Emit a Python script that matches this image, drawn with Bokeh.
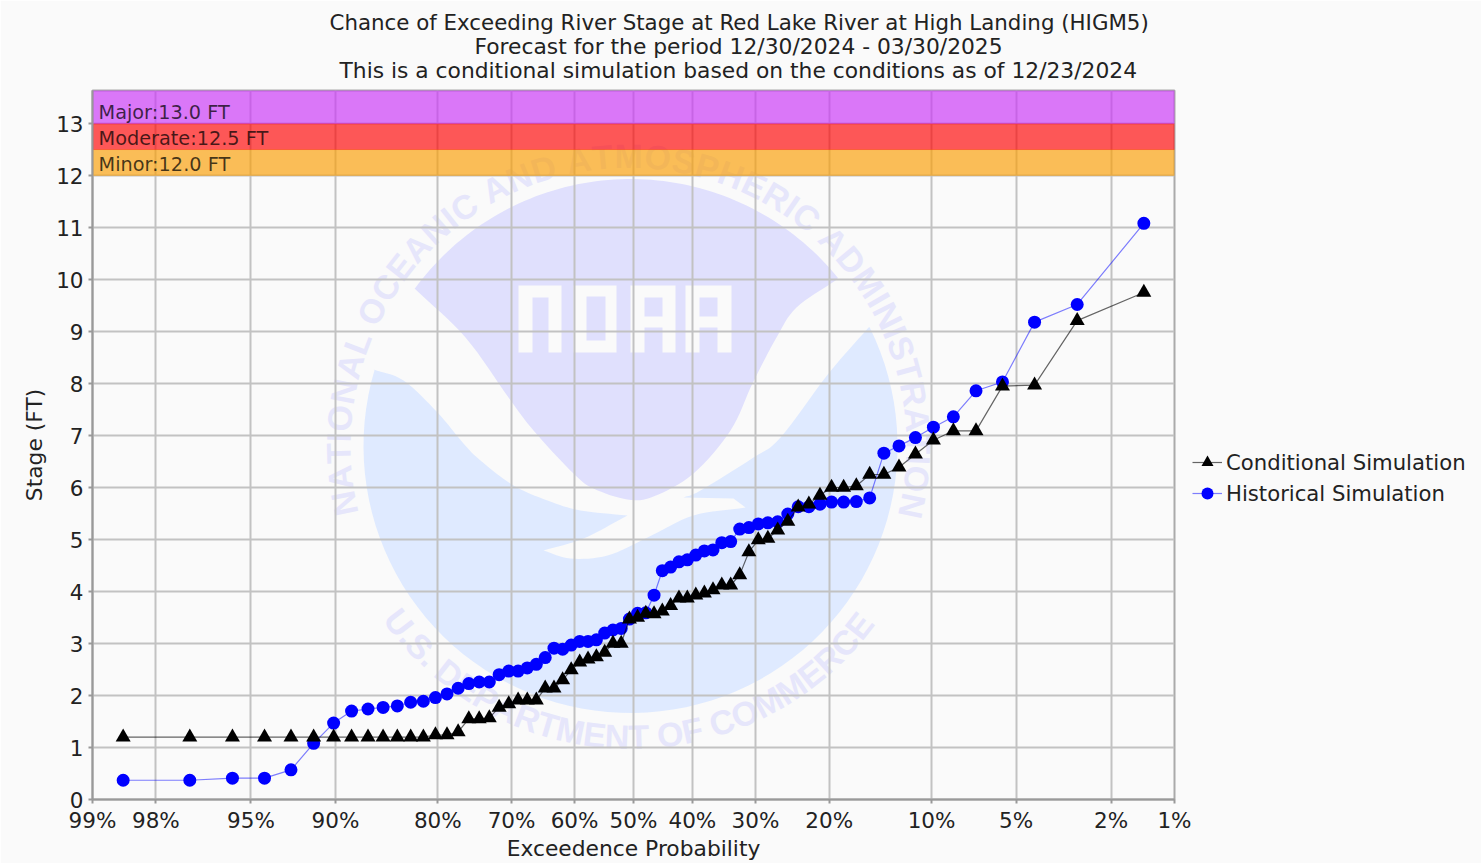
from statistics import NormalDist
import numpy as np
from bokeh.embed import file_html
from bokeh.resources import INLINE
from bokeh.plotting import figure
from bokeh.models import FixedTicker, Legend, LegendItem, Title
from bokeh.core.properties import value

title_lines = [
    "Chance of Exceeding River Stage at Red Lake River at High Landing (HIGM5)",
    "Forecast for the period 12/30/2024 - 03/30/2025",
    "This is a conditional simulation based on the conditions as of 12/23/2024",
]
exceedance_pct = [
    98.59, 97.18, 95.77, 94.37, 92.96, 91.55, 90.14, 88.73, 87.32, 85.92,
    84.51, 83.10, 81.69, 80.28, 78.87, 77.46, 76.06, 74.65, 73.24, 71.83,
    70.42, 69.01, 67.61, 66.20, 64.79, 63.38, 61.97, 60.56, 59.15, 57.75,
    56.34, 54.93, 53.52, 52.11, 50.70, 49.30, 47.89, 46.48, 45.07, 43.66,
    42.25, 40.85, 39.44, 38.03, 36.62, 35.21, 33.80, 32.39, 30.99, 29.58,
    28.17, 26.76, 25.35, 23.94, 22.54, 21.13, 19.72, 18.31, 16.90, 15.49,
    14.08, 12.68, 11.27, 9.86, 8.45, 7.04, 5.63, 4.23, 2.82, 1.41,
]
conditional = [
    1.20, 1.20, 1.20, 1.20, 1.20, 1.20, 1.20, 1.20, 1.20, 1.20,
    1.20, 1.20, 1.20, 1.24, 1.24, 1.30, 1.55, 1.55, 1.57, 1.77,
    1.84, 1.91, 1.91, 1.91, 2.14, 2.14, 2.30, 2.49, 2.64, 2.70,
    2.74, 2.83, 3.00, 3.00, 3.47, 3.50, 3.58, 3.57, 3.62, 3.73,
    3.87, 3.87, 3.93, 3.97, 4.03, 4.12, 4.12, 4.32, 4.76, 4.99,
    5.02, 5.18, 5.35, 5.62, 5.68, 5.85, 6.00, 6.00, 6.03, 6.25,
    6.25, 6.39, 6.64, 6.91, 7.09, 7.09, 7.95, 7.97, 9.21, 9.75,
]
historical = [
    0.37, 0.37, 0.41, 0.41, 0.57, 1.08, 1.47, 1.70, 1.74, 1.77,
    1.80, 1.87, 1.89, 1.96, 2.03, 2.14, 2.23, 2.26, 2.26, 2.40,
    2.47, 2.47, 2.53, 2.60, 2.73, 2.91, 2.89, 2.97, 3.04, 3.04,
    3.07, 3.20, 3.26, 3.29, 3.47, 3.58, 3.59, 3.93, 4.40, 4.47,
    4.57, 4.61, 4.70, 4.78, 4.80, 4.94, 4.96, 5.20, 5.23, 5.30,
    5.32, 5.34, 5.49, 5.63, 5.63, 5.68, 5.72, 5.72, 5.73, 5.80,
    6.66, 6.80, 6.96, 7.16, 7.36, 7.86, 8.03, 9.18, 9.52, 11.08,
]
x_tick_pct = [99, 98, 95, 90, 80, 70, 60, 50, 40, 30, 20, 10, 5, 2, 1]
y_ticks = list(range(14))
band_bottoms = [12.0, 12.5, 13.0]
band_tops = [12.5, 13.0, 13.635]
band_labels = ["Minor:12.0 FT", "Moderate:12.5 FT", "Major:13.0 FT"]
band_colors = ["#fa9d00", "#ff0000", "#c931f8"]


def zscore(pct):
    return NormalDist().inv_cdf(1 - pct / 100)


X_MIN, X_MAX = zscore(99), zscore(1)
FONT = "DejaVu Sans"
p = figure(
    width=1473, height=859, output_backend="svg", toolbar_location=None,
    x_range=(X_MIN, X_MAX), y_range=(0, 13.635),
    background_fill_color="#fafafa", border_fill_color="#fafafa",
    min_border_left=92, min_border_right=10, min_border_top=90, min_border_bottom=60,
    frame_width=1082, frame_height=709,
    outline_line_color="#aaaaaa", outline_line_width=2,
)

# ---- NOAA seal watermark, drawn behind the grid (page pixels mapped to the axes)
FL, FR, FT, FB = 92.0, 1174.0, 90.0, 799.0


def wx(px):
    return X_MIN + (np.asarray(px, float) - FL) / (FR - FL) * (X_MAX - X_MIN)


def wy(py):
    return (FB - np.asarray(py, float)) / 52.0


CX, CY, R = 630.0, 445.5, 267.0


def arc(a0, a1, n=80):
    t = np.radians(np.linspace(a0, a1, n))
    return list(CX + R * np.sin(t)), list(CY - R * np.cos(t))


def smooth(x, y, n=8):
    """Catmull-Rom through an outline section so the seal's curves stay round."""
    P = np.column_stack([x, y]).astype(float)
    P = np.vstack([2 * P[0] - P[1], P, 2 * P[-1] - P[-2]])
    out = []
    for i in range(1, len(P) - 2):
        for t in np.linspace(0, 1, n, endpoint=False):
            out.append(0.5 * ((2 * P[i]) + (P[i + 1] - P[i - 1]) * t
                              + (2 * P[i - 1] - 5 * P[i] + 4 * P[i + 1] - P[i + 2]) * t ** 2
                              + (3 * P[i] - P[i - 1] - 3 * P[i + 1] + P[i + 2]) * t ** 3))
    out.append(P[-2])
    out = np.array(out)
    return list(out[:, 0]), list(out[:, 1])


LAV, BLU, BG, WTXT = "#e0e0fd", "#dfeaff", "#fafafa", "#e6e6fb"
# lower blue body: clockwise from the right tip round the bottom to the left tip
ax, ay = arc(63.6, 286.5)
sx1, sy1 = smooth([373, 403, 437, 463, 480, 513, 547, 580, 627], [369, 380, 412, 443, 460, 485, 500, 510, 515])
sx2, sy2 = smooth([627, 583, 543], [515, 538, 550])
sx3, sy3 = smooth([543, 570, 607, 647, 693, 745], [550, 558, 555, 537, 515, 507])
sx4, sy4 = smooth([683, 700, 753, 780, 828, 868], [497, 490, 457, 437, 373, 327])
bx = ax + sx1 + sx2 + sx3 + [733] + sx4
by = ay + sy1 + sy2 + sy3 + [498] + sy4
p.patch(wx(bx), wy(by), fill_color=BLU, line_color=None, level="image")
# upper lavender body
ax, ay = arc(-54, 51)
sx5, sy5 = smooth([835, 796, 776, 752, 730, 693, 653, 627, 593, 573, 533, 508, 465, 414],
                  [280, 307, 337, 383, 430, 473, 496, 499, 488, 473, 430, 397, 337, 288])
p.patch(wx(ax + sx5), wy(ay + sy5), fill_color=LAV, line_color=None, level="image")
# block letters N O A A: light outer blocks with lavender slots
outer_l, outer_r = [518, 573, 630, 685], [561, 616, 675, 731]
p.quad(left=wx(outer_l), right=wx(outer_r), top=wy([285] * 4), bottom=wy([352] * 4),
       fill_color=BG, line_color=None, level="image")
slot_l = [532, 586, 644, 644, 699, 699]
slot_r = [548, 605, 662, 662, 717, 717]
slot_t = [297, 296, 297, 327, 297, 327]
slot_b = [352.5, 340, 316, 352.5, 316, 352.5]
p.quad(left=wx(slot_l), right=wx(slot_r), top=wy(slot_t), bottom=wy(slot_b),
       fill_color=LAV, line_color=None, level="image")

WIDTHS = dict(A=722, C=722, D=722, E=667, F=611, I=278, L=611, M=833, N=722, O=778, P=667,
              R=722, S=667, T=611, U=722, H=722)
WIDTHS[" "] = 278
WIDTHS["."] = 278


def ring_text(text, start, end, r, bottom, cx):
    w = np.array([WIDTHS[c] for c in text], float)
    mids = (np.cumsum(w) - w / 2) / w.sum()
    ang = np.radians(start + (end - start) * mids)
    if bottom:
        xs, ys, rot = cx + r * np.sin(ang), CY + r * np.cos(ang), ang
    else:
        xs, ys, rot = cx + r * np.sin(ang), CY - r * np.cos(ang), -ang
    keep = [i for i, c in enumerate(text) if c != " "]
    p.text(wx(xs[keep]), wy(ys[keep]), text=[text[i] for i in keep], angle=rot[keep],
           angle_units="rad", text_color=WTXT, text_font=value("Liberation Sans"),
           text_font_size="34px", text_font_style="bold",
           text_align="center", text_baseline="middle", level="image")


ring_text("NATIONAL OCEANIC AND ATMOSPHERIC ADMINISTRATION", -104, 104.5, 290, False, 628)
ring_text("U.S. DEPARTMENT OF COMMERCE", -55, 54, 291, True, 630)

# ---- flood category bands
xs = [zscore(v) for v in exceedance_pct]
p.quad(left=X_MIN, right=X_MAX, bottom=band_bottoms, top=band_tops,
       fill_color=band_colors, fill_alpha=0.65, line_color=band_colors, line_alpha=0.3)
p.text(x=[X_MIN] * 3, y=band_bottoms, text=band_labels, x_offset=6, y_offset=-11,
       text_font=value(FONT), text_font_size="19.3px", text_color="#000000", text_alpha=0.72,
       text_align="left", text_baseline="alphabetic")

# ---- series
hl = p.line(xs, historical, line_color="#0000ff", line_alpha=0.5, line_width=1.2)
hs = p.scatter(xs, historical, marker="circle", size=13, fill_color="#0000ff", line_color=None)
cl = p.line(xs, conditional, line_color="#000000", line_alpha=0.6, line_width=1.2)
cs = p.scatter(xs, conditional, marker="triangle", size=15, fill_color="#000000", line_color=None)

# ---- axes and grid
p.xaxis.ticker = FixedTicker(ticks=[zscore(v) for v in x_tick_pct])
p.xaxis.major_label_overrides = {zscore(v): f"{v}%" for v in x_tick_pct}
p.yaxis.ticker = FixedTicker(ticks=y_ticks)
p.xaxis.axis_label = "Exceedence Probability"
p.yaxis.axis_label = "Stage (FT)"
for ax_ in (p.xaxis[0], p.yaxis[0]):
    ax_.axis_line_color = "#999999"
    ax_.axis_line_width = 2
    ax_.major_tick_line_color = "#999999"
    ax_.major_tick_line_width = 2
    ax_.major_tick_in = 0
    ax_.major_tick_out = 4
    ax_.minor_tick_line_color = None
    ax_.major_label_text_font = FONT
    ax_.major_label_text_font_size = "21.5px"
    ax_.major_label_text_color = "#222222"
    ax_.axis_label_text_font = FONT
    ax_.axis_label_text_font_size = "21.8px"
    ax_.axis_label_text_font_style = "normal"
    ax_.axis_label_text_color = "#222222"
p.xaxis.major_label_standoff = 4
p.xaxis.axis_label_standoff = 0
p.yaxis.major_label_standoff = 5
p.yaxis.major_label_orientation = "horizontal"
p.yaxis.axis_label_standoff = 6
p.grid.grid_line_color = "#c2c2c2"
p.grid.grid_line_width = 2

# ---- title lines, left-aligned by offset so that they centre on the page
p.add_layout(Title(text=" ", standoff=-18, text_font=FONT, text_font_size="21.8px"), "above")
for line, off, size in reversed(list(zip(title_lines, [237, 382, 247], ["21.35px", "21.8px", "21.8px"]))):
    p.add_layout(Title(text=line, align="left", offset=off, standoff=-3,
                       text_font=FONT, text_font_size=size, text_font_style="normal",
                       text_color="#222222"), "above")

legend = Legend(
    items=[LegendItem(label="Conditional Simulation", renderers=[cl, cs]),
           LegendItem(label="Historical Simulation", renderers=[hl, hs])],
    location=(18, 291), orientation="vertical", background_fill_alpha=0, border_line_color=None,
    padding=0, margin=20, spacing=1, glyph_width=30, glyph_height=30, label_standoff=4,
    label_text_font=FONT, label_text_font_size="21.2px", label_text_color="#222222",
)
p.add_layout(legend, "right")

open("out.html", "w").write(file_html(p, INLINE))
